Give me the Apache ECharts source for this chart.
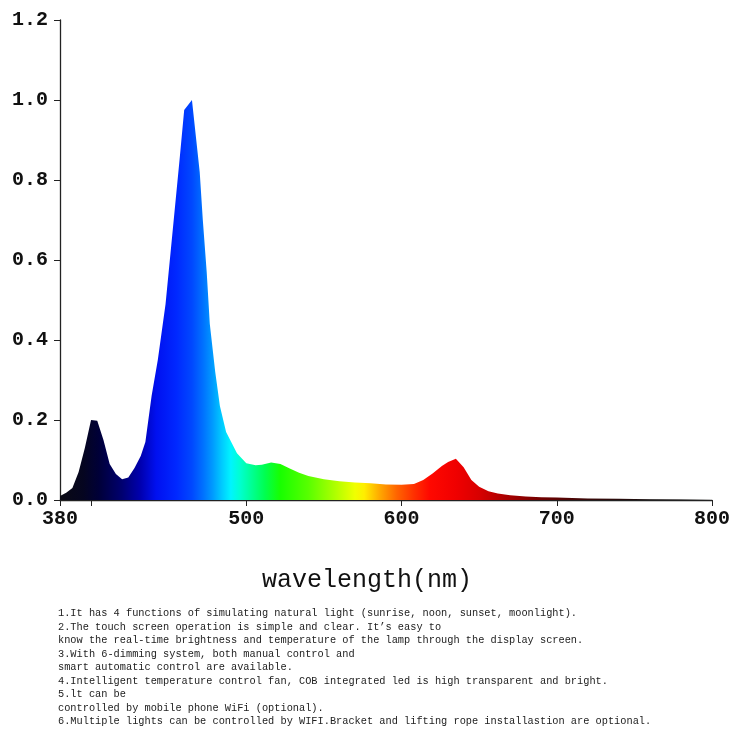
<!DOCTYPE html>
<html>
<head>
<meta charset="utf-8">
<script src="https://cdn.jsdelivr.net/npm/echarts@6/dist/echarts.min.js"></script>
<style>
  html, body { margin: 0; padding: 0; background: #fff; }
  #container { width: 740px; height: 742px; }
</style>
</head>
<body>
<div id="container"></div>
<script>
// spectrum (wavelength nm / relative intensity)
var wavelengths = [380, 384, 388, 392, 396, 400, 404, 408, 412, 416, 420, 424, 428, 432, 435, 439, 443, 448, 451, 454, 457, 460, 465, 470, 472, 474.5, 476.5, 480, 483, 487, 494, 500, 506, 510, 516, 522, 528, 534, 540, 550, 560, 570, 580, 590, 600, 608, 614, 620, 626, 630, 635, 640, 645, 650, 656, 662, 670, 680, 690, 700, 720, 740, 760, 780, 800];
var intensity = [0.01, 0.018, 0.03, 0.07, 0.13, 0.2, 0.198, 0.15, 0.09, 0.065, 0.052, 0.056, 0.08, 0.11, 0.145, 0.26, 0.35, 0.49, 0.61, 0.73, 0.85, 0.975, 1.0, 0.82, 0.70, 0.57, 0.44, 0.32, 0.235, 0.17, 0.117, 0.092, 0.087, 0.088, 0.094, 0.09, 0.079, 0.068, 0.06, 0.052, 0.047, 0.044, 0.042, 0.039, 0.038, 0.04, 0.05, 0.066, 0.085, 0.095, 0.103, 0.082, 0.05, 0.033, 0.022, 0.016, 0.012, 0.009, 0.007, 0.006, 0.004, 0.003, 0.002, 0.0015, 0.001];

var tickValues = [380, 400, 500, 600, 700, 800];
var labelValues = [380, 500, 600, 700, 800];

var notes = [
	'1.It has 4 functions of simulating natural light (sunrise, noon, sunset, moonlight).',
	'2.The touch screen operation is simple and clear. It\u2019s easy to',
	'know the real-time brightness and temperature of the lamp through the display screen.',
	'3.With 6-dimming system, both manual control and',
	'smart automatic control are available.',
	'4.Intelligent temperature control fan, COB integrated led is high transparent and bright.',
	'5.lt can be',
	'controlled by mobile phone WiFi (optional).',
	'6.Multiple lights can be controlled by WIFI.Bracket and lifting rope installastion are optional.'
];

// colour of the fill along the wavelength range
var spectrumStops = [
	[380, '#0a0a14'], [395, '#050520'], [405, '#000038'], [420, '#000070'],
	[432, '#0000b0'], [442, '#0010f0'], [455, '#0028ff'], [465, '#0048ff'],
	[472, '#0070ff'], [478, '#0098ff'], [484, '#00c8ff'], [490, '#00f4ff'],
	[496, '#00ffd0'], [503, '#00ff98'], [512, '#00ff50'], [522, '#18ff00'],
	[540, '#58ff00'], [556, '#a8ff00'], [570, '#f0ff00'], [576, '#ffee00'],
	[586, '#ffa800'], [597, '#ff6400'], [608, '#ff3000'], [618, '#ff0800'],
	[635, '#f00000'], [650, '#d80000'], [665, '#b00000'], [690, '#700000'],
	[720, '#3a0808'], [760, '#181010'], [800, '#101010']
];

function buildGradient() {
	var stops = spectrumStops.map(function (s) {
		return { offset: (s[0] - 380) / 420, color: s[1] };
	});
	return new echarts.graphic.LinearGradient(0, 0, 1, 0, stops);
}

var seriesData = wavelengths.map(function (w, i) { return [w, intensity[i]]; });

var option = {
	animation: false,
	grid: { left: 60, right: 28, top: 20, bottom: 242 },
	xAxis: {
		type: 'value',
		min: 380,
		max: 800,
		axisLine: { show: true, lineStyle: { color: '#222', width: 1.3 } },
		axisTick: { show: true, length: 6, customValues: tickValues, lineStyle: { color: '#222' } },
		axisLabel: {
			customValues: labelValues,
			margin: 9,
			color: '#111',
			fontFamily: 'Liberation Mono',
			fontWeight: 'bold',
			fontSize: 20
		},
		splitLine: { show: false }
	},
	yAxis: {
		type: 'value',
		min: 0,
		max: 1.2,
		interval: 0.2,
		axisLine: { show: true, lineStyle: { color: '#222', width: 1.3 } },
		axisTick: { show: true, length: 6, lineStyle: { color: '#222' } },
		axisLabel: {
			margin: 12,
			color: '#111',
			fontFamily: 'Liberation Mono',
			fontWeight: 'bold',
			fontSize: 20,
			formatter: function (v) { return v.toFixed(1); }
		},
		splitLine: { show: false }
	},
	series: [{
		type: 'line',
		data: seriesData,
		showSymbol: false,
		lineStyle: { width: 0 },
		areaStyle: { color: buildGradient(), opacity: 1 },
		z: 1
	}],
	graphic: [
		{
			type: 'text',
			x: 367,
			y: 580,
			style: {
				text: 'wavelength(nm)',
				fontFamily: 'Liberation Mono',
				fontSize: 25,
				fill: '#111',
				align: 'center',
				verticalAlign: 'middle'
			}
		},
		{
			type: 'text',
			x: 58,
			y: 607,
			style: {
				text: notes.join('\n'),
				fontFamily: 'Liberation Mono',
				fontSize: 10.3,
				lineHeight: 13.5,
				fill: '#222',
				align: 'left',
				verticalAlign: 'top'
			}
		}
	]
};

var myChart = echarts.init(document.getElementById('container'));
myChart.setOption(option);
</script>
</body>
</html>
